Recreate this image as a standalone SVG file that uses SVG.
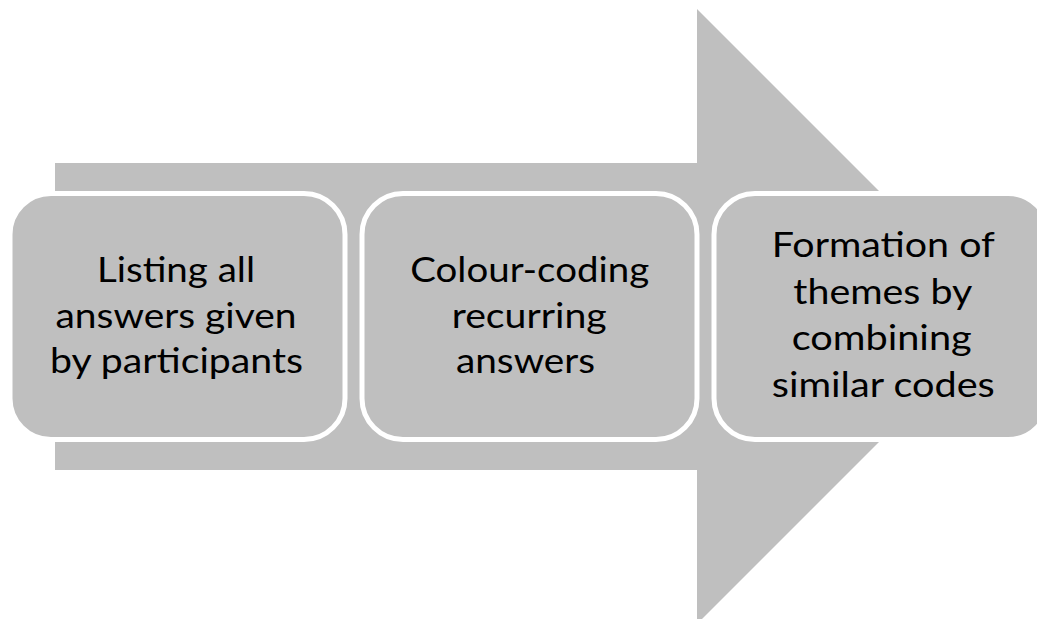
<svg xmlns="http://www.w3.org/2000/svg" width="1037" height="619" viewBox="0 0 1037 619">
<style>
.box{fill:#BFBFBF;stroke:#FFFFFF;stroke-width:5}
.lbl{font-family:Lato,"Open Sans","Liberation Sans",sans-serif;font-size:34px;fill:#000000;text-anchor:middle}
</style>
<rect width="1037" height="619" fill="#FFFFFF"/>
<g id="connectors">
<polygon id="arrow" points="55,163 697,163 697,9 1004.5,316.5 697,624 697,470 55,470" fill="#BFBFBF"/>
</g>
<g id="node1">
<rect class="box" x="10" y="193.5" width="335" height="246" rx="41" ry="41"/>
<text class="lbl" x="176" y="282" textLength="158" lengthAdjust="spacingAndGlyphs">Listing all</text>
<text class="lbl" x="176" y="327.5" textLength="241" lengthAdjust="spacingAndGlyphs">answers given</text>
<text class="lbl" x="176.5" y="373" textLength="253" lengthAdjust="spacingAndGlyphs">by participants</text>
</g>
<g id="node2">
<rect class="box" x="362" y="193.5" width="335" height="246" rx="41" ry="41"/>
<text class="lbl" x="529.7" y="282" textLength="239" lengthAdjust="spacingAndGlyphs">Colour-coding</text>
<text class="lbl" x="529.2" y="327.5" textLength="155" lengthAdjust="spacingAndGlyphs">recurring</text>
<text class="lbl" x="525.5" y="373" textLength="139" lengthAdjust="spacingAndGlyphs">answers</text>
</g>
<g id="node3">
<rect class="box" x="714" y="193.5" width="335" height="246" rx="41" ry="41"/>
<text class="lbl" x="883.3" y="257" textLength="223" lengthAdjust="spacingAndGlyphs">Formation of</text>
<text class="lbl" x="882.8" y="303.5" textLength="179" lengthAdjust="spacingAndGlyphs">themes by</text>
<text class="lbl" x="881.7" y="350" textLength="180" lengthAdjust="spacingAndGlyphs">combining</text>
<text class="lbl" x="883.3" y="396.7" textLength="223" lengthAdjust="spacingAndGlyphs">similar codes</text>
</g>
</svg>
